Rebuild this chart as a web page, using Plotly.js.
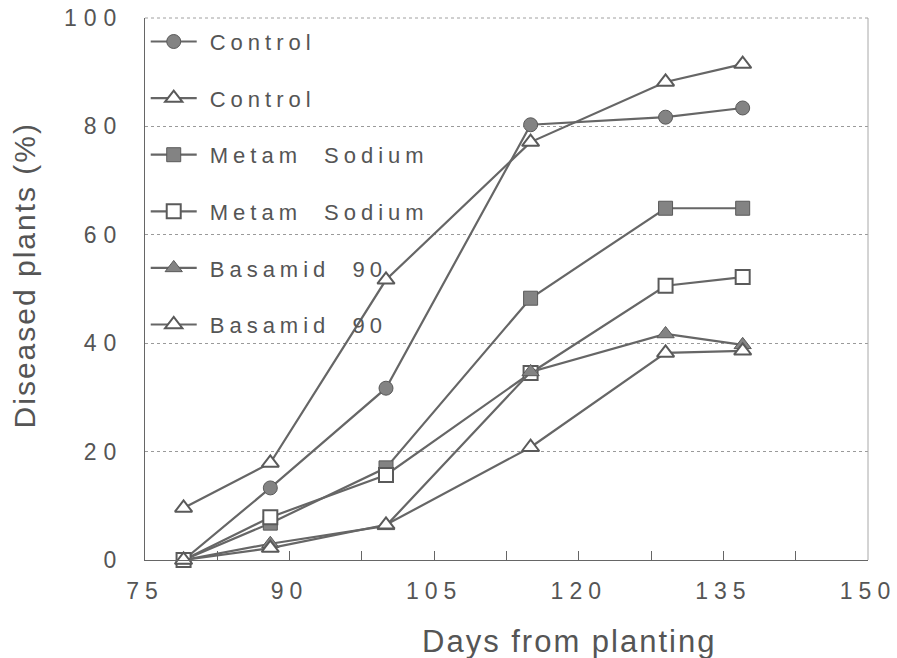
<!DOCTYPE html>
<html>
<head>
<meta charset="utf-8">
<script src="https://cdn.plot.ly/plotly-3.0.1.min.js"></script>
<style>
  html, body { margin: 0; padding: 0; background: #fff; }
  #chart { width: 897px; height: 658px; }
  .legendtext { letter-spacing: 5px; word-spacing: 11px; }
  .ytick text { letter-spacing: 7px; }
  .xtick text { letter-spacing: 6px; }
  .annotation-text { letter-spacing: 2px; }
</style>
</head>
<body>
<div id="chart"></div>
<script>
const days = [79, 88, 100, 115, 129, 137];
const seriesNames = ["Control", "Control", "Metam Sodium", "Metam Sodium", "Basamid 90", "Basamid 90"];
const controlCircle   = [0, 13.3, 31.7, 80.3, 81.7, 83.4];
const controlTriangle = [9.6, 17.9, 51.7, 77.1, 88.2, 91.5];
const metamFilled     = [0, 6.8, 17.0, 48.3, 64.9, 64.9];
const metamOpen       = [0, 7.9, 15.7, 34.5, 50.6, 52.2];
const basamidFilled   = [0, 3.0, 6.3, 34.7, 41.7, 39.7];
const basamidOpen     = [0, 2.2, 6.5, 20.8, 38.2, 38.6];
const xTickVals = [75, 90, 105, 120, 135, 150];
const yTickVals = [0, 20, 40, 60, 80, 100];
const xTitle = 'Days from planting';
const yTitle = 'Diseased plants (%)';

const lineCol = '#666666';
const fillCol = '#838383';
const edgeCol = '#5a5a5a';
const textCol = '#555555';

function mk(y, name, symbol, filled, size, grp) {
  return {
    x: days, y: y, name: name, type: 'scatter', mode: 'lines+markers',
    legendgroup: grp, cliponaxis: false,
    line: { color: lineCol, width: 2.2 },
    marker: {
      symbol: symbol, size: size,
      color: filled ? fillCol : '#ffffff',
      line: { color: edgeCol, width: filled ? 1 : 2 }
    }
  };
}

const data = [
  mk(controlCircle,   seriesNames[0], 'circle',        true,  14, 'g1'),
  mk(controlTriangle, seriesNames[1], 'triangle-up',   false, 15, 'g2'),
  mk(metamFilled,     seriesNames[2], 'square',        true,  14, 'g3'),
  mk(metamOpen,       seriesNames[3], 'square',        false, 14, 'g4'),
  mk(basamidFilled,   seriesNames[4], 'triangle-up',   true,  15, 'g5'),
  mk(basamidOpen,     seriesNames[5], 'triangle-up',   false, 15, 'g6')
];

const layout = {
  width: 897, height: 658,
  margin: { l: 145, r: 29, t: 18, b: 98 },
  paper_bgcolor: '#ffffff', plot_bgcolor: '#ffffff',
  font: { family: 'Liberation Sans, Arial, sans-serif', color: textCol },
  showlegend: true,
  legend: {
    x: 0.001, y: 0.995, xanchor: 'left', yanchor: 'top',
    bgcolor: 'rgba(0,0,0,0)', borderwidth: 0,
    traceorder: 'grouped', tracegroupgap: 25,
    itemwidth: 46,
    font: { size: 22, color: textCol }
  },
  xaxis: {
    range: [75, 150], tickvals: xTickVals, ticktext: xTickVals.map(String),
    ticks: 'inside', ticklen: 9, tickcolor: '#666', tickwidth: 1,
    minor: { dtick: 7.5, tick0: 75, ticks: 'inside', ticklen: 9, tickcolor: '#666', tickwidth: 1, showgrid: false },
    showline: true, linecolor: '#666', linewidth: 1, mirror: false,
    showgrid: false, zeroline: false,
    tickfont: { size: 23, color: textCol },
    ticklabelstandoff: 10,
    ticklabeloverflow: 'allow'
  },
  yaxis: {
    range: [0, 100], tickvals: yTickVals, ticktext: yTickVals.map(String),
    ticks: '', showline: true, linecolor: '#666', linewidth: 1, mirror: false,
    showgrid: true, gridcolor: '#9a9a9a', griddash: 'dot', gridwidth: 1,
    zeroline: false,
    tickfont: { size: 23, color: textCol },
    ticklabelstandoff: 16,
    ticklabeloverflow: 'allow'
  },
  annotations: [
    { text: xTitle, xref: 'paper', yref: 'paper', x: 0.587, y: 0, yshift: -81,
      xanchor: 'center', yanchor: 'middle', showarrow: false,
      font: { size: 31, color: textCol } },
    { text: yTitle, xref: 'paper', yref: 'paper', x: 0, xshift: -121, y: 0.525,
      xanchor: 'center', yanchor: 'middle', showarrow: false, textangle: -90,
      font: { size: 30, color: textCol } }
  ],
  shapes: [
    { type: 'line', xref: 'paper', yref: 'paper', x0: 1, x1: 1, y0: 0, y1: 1, line: { color: '#a8a8a8', width: 1 } },
    { type: 'line', xref: 'paper', yref: 'paper', x0: 0, x1: 1, y0: 1, y1: 1, line: { color: '#a0a0a0', width: 1, dash: 'dot' } }
  ]
};

Plotly.newPlot('chart', data, layout, { displayModeBar: false, staticPlot: true }).then(function () {
  document.querySelectorAll('.legendtext').forEach(function (t) {
    const x0 = parseFloat(t.getAttribute('x')) || 0;
    t.setAttribute('x', x0 + 8);
  });
});
</script>
</body>
</html>
